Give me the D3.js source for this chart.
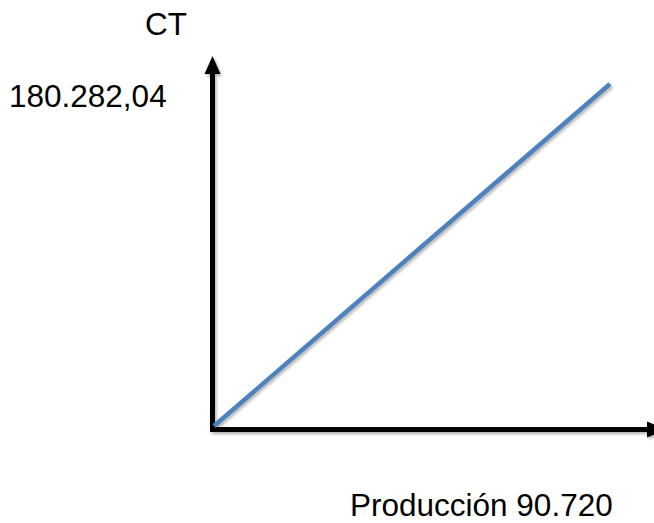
<!DOCTYPE html>
<html>
<head>
<meta charset="utf-8">
<script src="https://cdn.jsdelivr.net/npm/d3@7"></script>
<style>
    html, body { margin: 0; padding: 0; background: #ffffff; }
    svg { display: block; }
</style>
</head>
<body>
<div id="chart"></div>
<script>
// valores del gráfico
const produccion = [0, 90720];
const costoTotal = [0, 180282.04];
const ejeY = 'CT';
const etiquetaY = '180.282,04';
const etiquetaX = 'Producción 90.720';

function ct_chart(container, fmt) {
    let svg = d3.select(container).append('svg')
        .attr('version', 1.1)
        .attr('xmlns', 'http://www.w3.org/2000/svg')
        .attr('width', fmt.width)
        .attr('height', fmt.height);

    let defs = svg.append('defs');
    defs.append('filter')
        .attr('id', 'sombra')
        .attr('x', '-10%').attr('y', '-10%')
        .attr('width', '120%').attr('height', '120%')
        .append('feDropShadow')
        .attr('dx', 1.5).attr('dy', 2)
        .attr('stdDeviation', 1.5)
        .attr('flood-color', '#000')
        .attr('flood-opacity', 0.3);

    let x = d3.scaleLinear().domain(d3.extent(produccion)).range([214, 610]),
        y = d3.scaleLinear().domain(d3.extent(costoTotal)).range([426, 84]);

    let ox = 212.5, oy = 429.5;

    let ejes = svg.append('g').attr('filter', 'url(#sombra)');

    // eje vertical con flecha
    ejes.append('line')
        .attr('x1', ox).attr('y1', oy + 2.5)
        .attr('x2', ox).attr('y2', 70)
        .attr('stroke', '#000').attr('stroke-width', 5);
    ejes.append('path')
        .attr('d', 'M' + ox + ',56 L' + (ox + 8) + ',74 L' + (ox - 8) + ',74 Z')
        .attr('fill', '#000');

    // eje horizontal con flecha
    ejes.append('line')
        .attr('x1', ox - 2.5).attr('y1', oy)
        .attr('x2', 650).attr('y2', oy)
        .attr('stroke', '#000').attr('stroke-width', 5);
    ejes.append('path')
        .attr('d', 'M666,' + oy + ' L647,' + (oy - 8) + ' L647,' + (oy + 8) + ' Z')
        .attr('fill', '#000');

    let datos = produccion.map((p, i) => ({x: p, y: costoTotal[i]}));

    let line = d3.line()
        .x((d) => x(d.x))
        .y((d) => y(d.y));

    svg.append('path').datum(datos)
        .attr('fill', 'none')
        .attr('stroke', fmt.color)
        .attr('stroke-width', 4.5)
        .attr('filter', 'url(#sombra)')
        .attr('d', line);

    let txt = svg.append('g')
        .attr('font-family', 'Liberation Sans, Arial, sans-serif')
        .attr('font-size', 31.5)
        .attr('fill', '#000');

    txt.append('text').attr('x', 145).attr('y', 35).text(ejeY);
    txt.append('text').attr('x', 9).attr('y', 106.5).text(etiquetaY);
    txt.append('text').attr('x', 350).attr('y', 515.5).text(etiquetaX);
}

ct_chart('#chart', {
    width: 654,
    height: 523,
    color: '#4f81bd'
});
</script>
</body>
</html>
